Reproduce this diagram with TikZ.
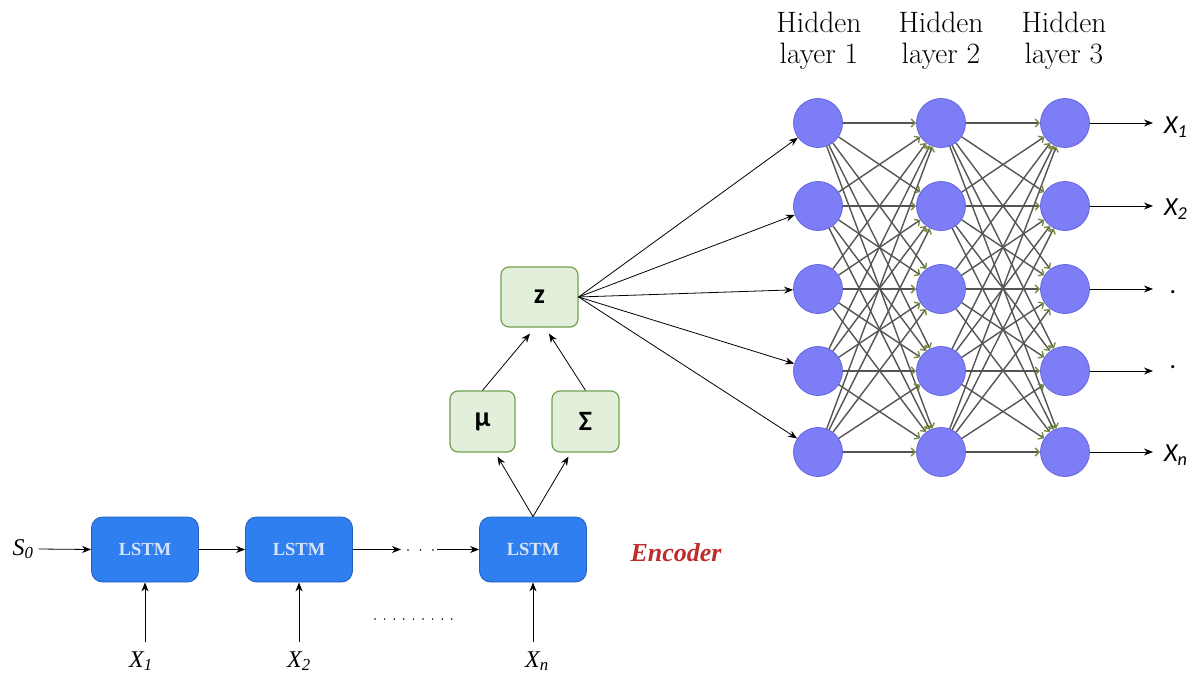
\documentclass[tikz,border=0pt]{standalone}
\usepackage{fontspec}
\usetikzlibrary{arrows.meta}
\newfontfamily\timesf{Liberation Serif}
\newfontfamily\calib{Carlito}
\definecolor{lstmfill}{RGB}{47,127,240}
\definecolor{lstmedge}{RGB}{35,95,190}
\definecolor{lstmtext}{RGB}{215,228,250}
\definecolor{gfill}{RGB}{226,239,218}
\definecolor{gedge}{RGB}{112,160,80}
\definecolor{nfill}{RGB}{125,125,245}
\definecolor{nedge}{RGB}{100,100,225}
\definecolor{linkgray}{RGB}{85,85,85}
\definecolor{barb}{RGB}{120,140,60}
\definecolor{encred}{RGB}{190,45,45}
\begin{document}
\begin{tikzpicture}[x=1pt,y=-1pt,
  lstm/.style={draw=lstmedge, fill=lstmfill, rounded corners=11pt, line width=0.8pt,
    minimum width=107pt, minimum height=65pt, inner sep=0pt, text=lstmtext,
    font=\timesf\bfseries\fontsize{18.5}{18.5}\selectfont},
  gbox/.style={draw=gedge, fill=gfill, rounded corners=8pt, line width=1.2pt, inner sep=0pt,
    font=\calib\bfseries\fontsize{28}{28}\selectfont},
  neuron/.style={circle, draw=nedge, fill=nfill, line width=0.8pt, minimum size=49pt, inner sep=0pt},
  arr/.style={-{Stealth[length=9pt,width=7pt]}, line width=0.8pt},
  link/.style={draw=linkgray, line width=1.4pt, -{Straight Barb[length=4pt,width=8pt,color=barb]}},
  hdr/.style={align=center, inner sep=0pt, font=\fontsize{29.5}{31}\selectfont},
  outlbl/.style={anchor=west, inner sep=0pt, font=\calib\itshape\fontsize{26}{26}\selectfont},
  inlbl/.style={inner sep=0pt, font=\timesf\itshape\fontsize{24}{24}\selectfont}]
\useasboundingbox (0,0) rectangle (1197,675);

% headers
\node[hdr] (hd1) at (819,40.5) {Hidden\\layer 1};
\node[hdr] (hd2) at (941,40.5) {Hidden\\layer 2};
\node[hdr] (hd3) at (1064,40.5) {Hidden\\layer 3};

% neurons
\foreach \i/\y in {1/123,2/206,3/289,4/371,5/452}{
  \node[neuron] (h1-\i) at (818,\y) {};
  \node[neuron] (h2-\i) at (941,\y) {};
  \node[neuron] (h3-\i) at (1065,\y) {};
  \coordinate (o-\i) at (1153,\y);
}

% fully connected links
\foreach \i in {1,...,5}{
  \foreach \j in {1,...,5}{
    \draw[link] (h1-\i) -- (h2-\j);
    \draw[link] (h2-\i) -- (h3-\j);
  }
}

% outputs
\foreach \i in {1,...,5}{
  \draw[arr] (h3-\i.east) -- (o-\i);
}
\node[outlbl] (x1o) at (1164,127) {X\textsubscript{1}};
\node[outlbl] (x2o) at (1164,209) {X\textsubscript{2}};
\node[outlbl] (x3o) at (1170,292) {.};
\node[outlbl] (x4o) at (1170,367) {.};
\node[outlbl] (xno) at (1164,455) {X\textsubscript{n}};

% latent variables
\node[gbox, minimum width=77pt, minimum height=60pt] (z) at (539.5,297) {z};
\node[gbox, minimum width=65pt, minimum height=61pt] (mu) at (482.5,421.5) {μ};
\node[gbox, minimum width=67pt, minimum height=61pt] (sig) at (585.5,421.5) {Σ};

\foreach \i in {1,...,5}{
  \draw[arr] (z.east) -- (h1-\i);
}

% LSTM encoder chain
\node[lstm] (l1) at (145,549.5) {LSTM};
\node[lstm] (l2) at (299,549.5) {LSTM};
\node[lstm] (l3) at (533,549.5) {LSTM};

\draw[arr] (l3.north) -- ([xshift=15pt,yshift=-4pt]mu.south);
\draw[arr] (l3.north) -- ([xshift=-17pt,yshift=-4pt]sig.south);
\draw[arr] (mu.north) -- ([xshift=-9.5pt,yshift=-6pt]z.south);
\draw[arr] (sig.north) -- ([xshift=9.5pt,yshift=-6pt]z.south);

\node[inlbl] (s0) at (23,549) {S\textsubscript{0}};
\draw[arr] ([xshift=5pt]s0.east) -- (l1.west);
\draw[arr] (l1.east) -- (l2.west);
\coordinate (g1) at (401,549.5);
\coordinate (g2) at (437,549.5);
\draw[arr] (l2.east) -- (g1);
\draw[line width=1.8pt, line cap=round, dash pattern=on 0pt off 12.5pt] (408,550) -- (434,550);
\draw[arr] (g2) -- (l3.west);

% inputs
\node[inlbl] (xi1) at (141,661) {X\textsubscript{1}};
\node[inlbl] (xi2) at (299,661) {X\textsubscript{2}};
\node[inlbl] (xin) at (537,661) {X\textsubscript{n}};
\draw[arr] ([yshift=9pt]xi1.north -| l1.south) -- (l1.south);
\draw[arr] ([yshift=9pt]xi2.north -| l2.south) -- (l2.south);
\draw[arr] ([yshift=9pt]xin.north -| l3.south) -- (l3.south);
\draw[line width=1.7pt, line cap=round, dash pattern=on 0pt off 9.6pt] (375,619) -- (453,619);

\node[inner sep=0pt, text=encred, font=\timesf\bfseries\itshape\fontsize{26}{26}\selectfont] (enc) at (676,553) {Encoder};
\end{tikzpicture}
\end{document}
